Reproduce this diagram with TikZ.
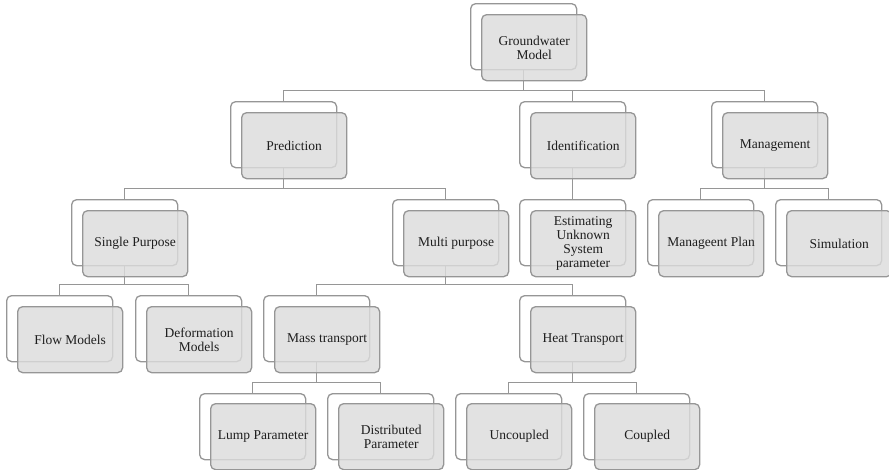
\documentclass[tikz,border=0pt]{standalone}
\usepackage{fontspec}
\setmainfont{Liberation Serif}
\definecolor{linegray}{RGB}{150,150,150}
\definecolor{boxgray}{RGB}{220,220,220}
\definecolor{textgray}{RGB}{30,30,30}
\tikzset{
 backbox/.style={draw=linegray, line width=1.3pt, rounded corners=5pt, fill=white,
   minimum width=106pt, minimum height=66pt, inner sep=0pt, anchor=north west},
 frontbox/.style={draw=linegray, line width=1.3pt, rounded corners=5pt, fill=boxgray,
   fill opacity=0.82, draw opacity=1, text opacity=1, minimum width=105pt, minimum height=66pt,
   inner sep=0pt, anchor=north west, align=center, text=textgray,
   font=\fontsize{13.5}{14}\selectfont},
 conn/.style={draw=linegray, line width=1.3pt}
}
\begin{document}
\begin{tikzpicture}[x=1pt,y=-1pt]
\useasboundingbox (0,0) rectangle (889,469);
% back boxes
\foreach \n/\x/\y in {gw/470/3, pred/230/101, iden/519/101, mgmt/711/101,
  single/71/199, multi/392/199, est/519/199, mplan/647/199, sim/775/199,
  flow/6/295, deform/135/295, mass/263/295, heat/519/295,
  lump/199/393, dist/327/393, uncoup/455/393, coup/583/393}
  {\node[backbox] (\n b) at (\x,\y) {};}
% connectors
\foreach \p/\c in {gw/pred, gw/iden, gw/mgmt, pred/single, pred/multi, iden/est,
  mgmt/mplan, mgmt/sim, single/flow, single/deform, multi/mass, multi/heat,
  mass/lump, mass/dist, heat/uncoup, heat/coup}
  {\draw[conn] (\p b.south) |- ([yshift=10.5pt]\c b.north) -- (\c b.north);}
% front boxes
\node[frontbox] (gw) at (481,14) {Groundwater\\Model};
\node[frontbox] (pred) at (241,112) {Prediction};
\node[frontbox] (iden) at (530,112) {Identification};
\node[frontbox] (mgmt) at (722,112) {Management};
\node[frontbox] (single) at (82,210) {Single Purpose};
\node[frontbox] (multi) at (403,210) {Multi purpose};
\node[frontbox] (est) at (530,210) {Estimating\\Unknown\\System\\parameter};
\node[frontbox] (mplan) at (658,210) {Manageent Plan};
\node[frontbox] (sim) at (786,210) {Simulation};
\node[frontbox] (flow) at (17,306) {Flow Models};
\node[frontbox] (deform) at (146,306) {Deformation\\Models};
\node[frontbox] (mass) at (274,306) {Mass transport};
\node[frontbox] (heat) at (530,306) {Heat Transport};
\node[frontbox] (lump) at (210,403) {Lump Parameter};
\node[frontbox] (dist) at (338,403) {Distributed\\Parameter};
\node[frontbox] (uncoup) at (466,403) {Uncoupled};
\node[frontbox] (coup) at (594,403) {Coupled};
\end{tikzpicture}
\end{document}
